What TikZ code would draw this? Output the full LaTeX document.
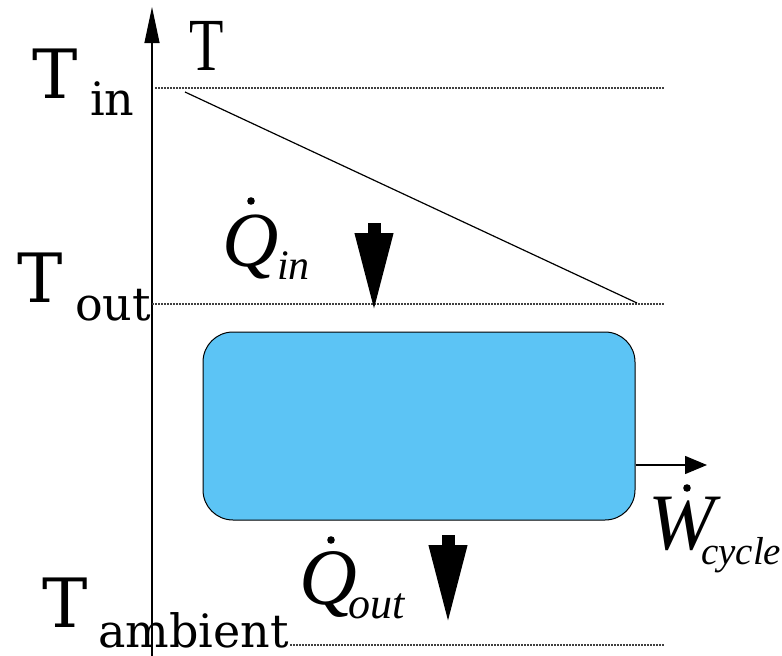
\documentclass[tikz,border=0pt]{standalone}
\usepackage{fontspec,tikz}
\usetikzlibrary{arrows.meta}
\newfontfamily\levelfont{DejaVu Serif}
\newfontfamily\varfont{Liberation Serif}
\definecolor{cyclefill}{RGB}{92,196,245}
\tikzset{
  lvl/.style={anchor=base west,inner sep=0pt,font=\fontsize{68}{80}\selectfont\levelfont},
  lvlsub/.style={anchor=base west,inner sep=0pt,font=\fontsize{46}{54}\selectfont\levelfont},
  qty/.style={anchor=base west,inner sep=0pt,font=\fontsize{#1}{#1}\selectfont\varfont\itshape},
  level line/.style={line width=1.2pt,dash pattern=on 1.5pt off 1.5pt,black!75},
  heatarrow/.style={line width=13pt,-{Triangle[length=80pt,width=35pt]}},
}
\begin{document}
\begin{tikzpicture}[x=1pt,y=-1pt]
\path[use as bounding box] (0,0) rectangle (782,656);
% axis
\draw[line width=1.2pt,-{Triangle[length=36pt,width=15pt]}] (152,656) -- (152,7);
\node[anchor=base west,inner sep=0pt,xscale=0.75,font=\fontsize{75}{80}\selectfont\varfont] (taxis) at (189,70) {T};
% temperature levels
\node[lvl] (tin) at (32,98) {T};
\node[lvlsub] (tinsub) at (90,115) {in};
\node[lvl] (tout) at (17,302) {T};
\node[lvlsub] (toutsub) at (75,320) {out};
\node[lvl] (tamb) at (42,627) {T};
\node[lvlsub] (tambsub) at (98,647) {ambient};
\coordinate (inl) at (155,88);
\coordinate (inr) at (665,88);
\coordinate (outl) at (152,304);
\coordinate (outr) at (665,304);
\coordinate (ambl) at (290,645);
\coordinate (ambr) at (665,645);
\draw[level line] (inl) -- (inr);
\draw[level line] (outl) -- (outr);
\draw[level line] (ambl) -- (ambr);
% hot stream cooling
\coordinate (hot) at (185,92);
\coordinate (cold) at (637,303);
\draw[line width=1.2pt] (hot) -- (cold);
% cycle
\node[draw,line width=1pt,fill=cyclefill,rounded corners=30pt,minimum width=432pt,minimum height=188pt] (cycle) at (419,426) {};
% heat in
\coordinate (qins) at (374,223);
\coordinate (qine) at (374,313);
\draw[heatarrow] (qins) -- (qine);
\node[qty=78] (qin) at (222,266) {Q};
\node[qty=42] (qinsub) at (277,279) {in};
\fill (251,201) circle (3.8pt);
% heat out
\coordinate (qouts) at (448,535);
\coordinate (qoute) at (448,625);
\draw[heatarrow] (qouts) -- (qoute);
\node[qty=80] (qout) at (299,604) {Q};
\node[qty=44] (qoutsub) at (348,618) {out};
\fill (331,540) circle (3.8pt);
% work
\coordinate (wend) at (707,465);
\draw[line width=1.5pt,-{Triangle[length=22pt,width=18pt]}] (wend -| cycle.east) -- (wend);
\node[qty=80] (wcyc) at (648,549) {W};
\node[qty=39] (wcycsub) at (701,564) {cycle};
\fill (687,488) circle (3.8pt);
\end{tikzpicture}
\end{document}
